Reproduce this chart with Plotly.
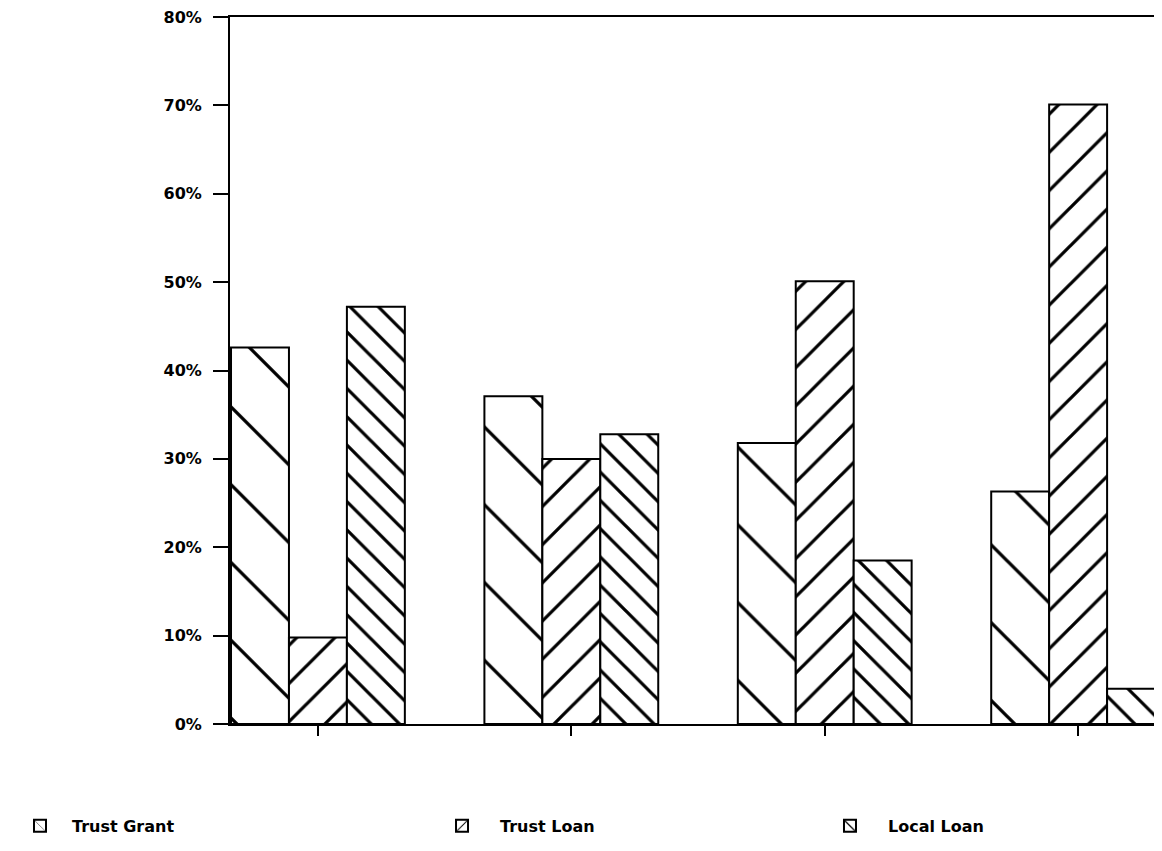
import plotly.graph_objects as go

groups = [0, 1, 2, 3]
series_names = ["Trust Grant", "Trust Loan", "Local Loan"]
trust_grant = [42.6, 37.1, 31.8, 26.3]
trust_loan = [9.8, 30.0, 50.1, 70.1]
local_loan = [47.2, 32.8, 18.5, 4.0]
y_ticks = [0, 10, 20, 30, 40, 50, 60, 70, 80]
y_tick_labels = ["0%", "10%", "20%", "30%", "40%", "50%", "60%", "70%", "80%"]

patterns = [
    dict(shape="\\", size=55, solidity=0.06, fgcolor="black", fgopacity=1, bgcolor="white", fillmode="overlay"),
    dict(shape="/", size=27, solidity=0.12, fgcolor="black", fgopacity=1, bgcolor="white", fillmode="overlay"),
    dict(shape="\\", size=20, solidity=0.16, fgcolor="black", fgopacity=1, bgcolor="white", fillmode="overlay"),
]
legend_ids = ["legend", "legend2", "legend3"]

fig = go.Figure()
for name, vals, pat, lg in zip(series_names, [trust_grant, trust_loan, local_loan], patterns, legend_ids):
    fig.add_trace(go.Bar(
        x=groups, y=vals, name=name, legend=lg,
        marker=dict(color="white", line=dict(color="black", width=2), pattern=pat),
    ))

leg_common = dict(orientation="h", xref="container", yref="container", xanchor="left",
                  y=0.0204, yanchor="middle", font=dict(size=16, weight="bold"),
                  bgcolor="rgba(0,0,0,0)")

fig.update_layout(
    width=1154, height=835,
    margin=dict(l=222, r=0, t=4, b=119),
    paper_bgcolor="white", plot_bgcolor="white",
    barmode="group", bargap=0.314, bargroupgap=0,
    font=dict(family="DejaVu Sans", color="black", size=16, weight="bold"),
    showlegend=True,
    legend=dict(x=0.0, itemwidth=54, **leg_common),
    legend2=dict(x=0.3605, itemwidth=66, **leg_common),
    legend3=dict(x=0.6967, itemwidth=66, **leg_common),
    xaxis=dict(range=[-0.347, 3.331], tickvals=groups, ticktext=["", "", "", ""],
               showline=True, linecolor="black", linewidth=2, mirror=True,
               ticks="outside", ticklen=10, tickwidth=2, tickcolor="black",
               showgrid=False, zeroline=False),
    yaxis=dict(range=[0, 80], tickvals=y_ticks, ticktext=y_tick_labels,
               showline=True, linecolor="black", linewidth=2,
               ticks="outside", ticklen=15, tickwidth=2, tickcolor="black",
               showgrid=False, zeroline=False, ticklabelstandoff=8,
               ticklabeloverflow="allow",
               tickfont=dict(size=16, weight="bold")),
)

fig.write_html("out.html")
